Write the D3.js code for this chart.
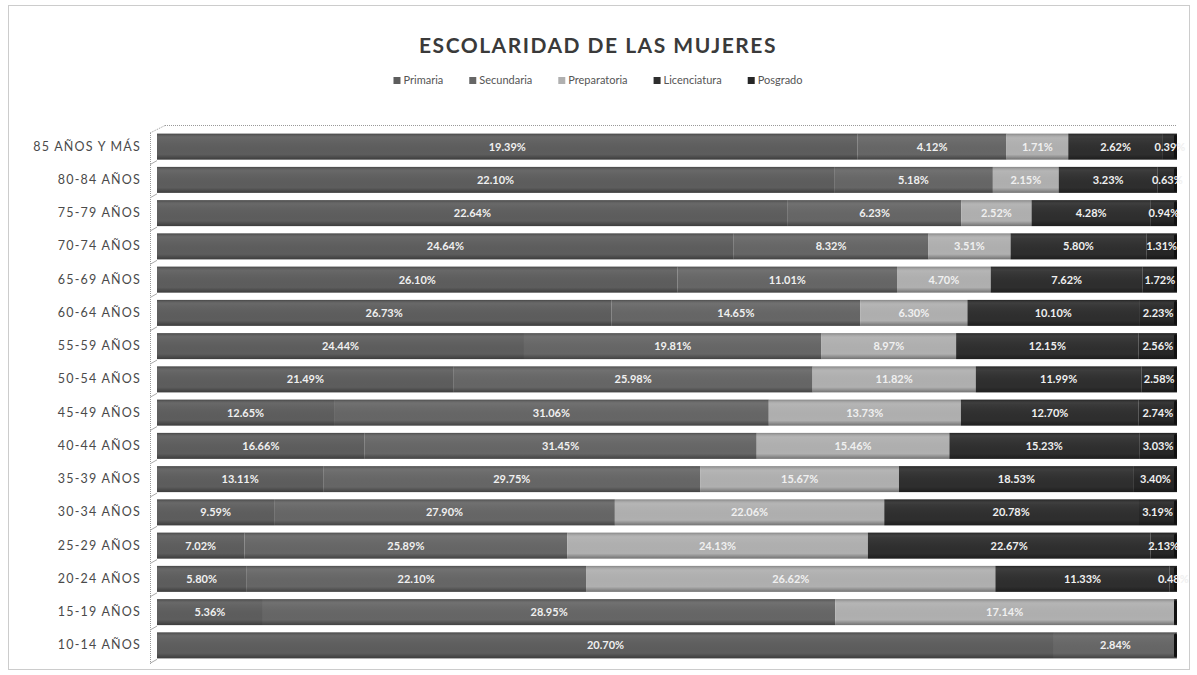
<!DOCTYPE html>
<html>
<head>
<meta charset="utf-8">
<script src="https://cdn.jsdelivr.net/npm/d3@7"></script>
<style>
  body { margin: 0; background: #fff; }
  svg text { font-family: Lato, "Open Sans", sans-serif; }
</style>
</head>
<body>
<div id="chart-area"></div>
<script>
const ageGroups = ['85 AÑOS Y MÁS', '80-84 AÑOS', '75-79 AÑOS', '70-74 AÑOS', '65-69 AÑOS', '60-64 AÑOS',
  '55-59 AÑOS', '50-54 AÑOS', '45-49 AÑOS', '40-44 AÑOS', '35-39 AÑOS', '30-34 AÑOS',
  '25-29 AÑOS', '20-24 AÑOS', '15-19 AÑOS', '10-14 AÑOS'];
const levels = ['Primaria', 'Secundaria', 'Preparatoria', 'Licenciatura', 'Posgrado'];
const primaria = [19.39, 22.10, 22.64, 24.64, 26.10, 26.73, 24.44, 21.49, 12.65, 16.66, 13.11, 9.59, 7.02, 5.80, 5.36, 20.70];
const secundaria = [4.12, 5.18, 6.23, 8.32, 11.01, 14.65, 19.81, 25.98, 31.06, 31.45, 29.75, 27.90, 25.89, 22.10, 28.95, 2.84];
const preparatoria = [1.71, 2.15, 2.52, 3.51, 4.70, 6.30, 8.97, 11.82, 13.73, 15.46, 15.67, 22.06, 24.13, 26.62, 17.14, 0];
const licenciatura = [2.62, 3.23, 4.28, 5.80, 7.62, 10.10, 12.15, 11.99, 12.70, 15.23, 18.53, 20.78, 22.67, 11.33, 0.15, 0];
const posgrado = [0.39, 0.63, 0.94, 1.31, 1.72, 2.23, 2.56, 2.58, 2.74, 3.03, 3.40, 3.19, 2.13, 0.48, 0, 0];
const colors = ['#5d5d5d', '#666666', '#b0b0b0', '#2e2e2e', '#262626'];

const chartSize = { width: 1197, height: 675 };
const margin = { left: 157, right: 20, top: 132, bottom: 15 };

const rows = ageGroups.map((g, i) => ({
  group: g,
  Primaria: primaria[i],
  Secundaria: secundaria[i],
  Preparatoria: preparatoria[i],
  Licenciatura: licenciatura[i],
  Posgrado: posgrado[i]
}));

const svg = d3.select('#chart-area').append('svg')
  .attr('width', chartSize.width)
  .attr('height', chartSize.height);

// outer dotted frame
svg.append('rect')
  .attr('x', 8.5).attr('y', 5.5)
  .attr('width', 1181).attr('height', 664)
  .attr('fill', 'none')
  .attr('stroke', '#999')
  .attr('stroke-dasharray', '1,1');

svg.append('text')
  .attr('x', 598).attr('y', 53)
  .attr('text-anchor', 'middle')
  .attr('font-size', 21)
  .attr('font-weight', 'bold')
  .attr('letter-spacing', 1.5)
  .attr('fill', '#3a3a3a')
  .text('ESCOLARIDAD DE LAS MUJERES');

// legend, laid out from measured text widths and centred
const legendGap = 26;
const legend = svg.append('g').attr('transform', 'translate(0,84)');
const items = legend.selectAll('g')
  .data(levels)
  .join('g');
items.append('rect')
  .attr('x', 0).attr('y', -7)
  .attr('width', 7).attr('height', 7)
  .attr('fill', (d, i) => colors[i]);
items.append('text')
  .attr('x', 10).attr('y', 0)
  .attr('font-size', 11)
  .attr('fill', '#555')
  .text(d => d);
let lx = 0;
const offsets = [];
items.each(function () {
  offsets.push(lx);
  lx += 10 + d3.select(this).select('text').node().getComputedTextLength() + legendGap;
});
const legendStart = 598 - (lx - legendGap) / 2;
items.attr('transform', (d, i) => `translate(${legendStart + offsets[i]},0)`);

const x = d3.scaleLinear()
  .domain([0, 1])
  .range([margin.left, chartSize.width - margin.right]);

const y = d3.scaleBand()
  .domain(ageGroups)
  .range([margin.top, chartSize.height - margin.bottom])
  .paddingInner(0.22)
  .paddingOuter(0.05);

// 3D back wall / axis lines
svg.append('line')
  .attr('x1', 165).attr('x2', x.range()[1])
  .attr('y1', 125.5).attr('y2', 125.5)
  .attr('stroke', '#999').attr('stroke-dasharray', '1,1');
svg.append('line')
  .attr('x1', 150.5).attr('x2', 150.5)
  .attr('y1', 133).attr('y2', 665)
  .attr('stroke', '#999').attr('stroke-dasharray', '1,1');
svg.append('line')
  .attr('x1', 150).attr('x2', 165)
  .attr('y1', 133).attr('y2', 125.5)
  .attr('stroke', '#999').attr('stroke-dasharray', '1,1');
svg.append('g')
  .selectAll('line')
  .data(ageGroups)
  .join('line')
  .attr('x1', 150).attr('x2', 157)
  .attr('y1', d => y(d) + y.bandwidth() + 5)
  .attr('y2', d => y(d) + y.bandwidth() + 1)
  .attr('stroke', '#aaa');

const yAxis = d3.axisLeft(y).tickSize(0).tickPadding(10);
const yAxisG = svg.append('g')
  .attr('transform', `translate(${margin.left - 6},0)`)
  .call(yAxis);
yAxisG.select('.domain').remove();
yAxisG.selectAll('text')
  .attr('font-size', 12.5)
  .attr('letter-spacing', 1.2)
  .attr('fill', '#4a4a4a');

const stack = d3.stack()
  .keys(levels)
  .offset(d3.stackOffsetExpand);
const series = stack(rows);

const defs = svg.append('defs');
const shade = defs.append('linearGradient')
  .attr('id', 'shade')
  .attr('x1', 0).attr('y1', 0).attr('x2', 0).attr('y2', 1);
shade.append('stop').attr('offset', '0%').attr('stop-color', '#000').attr('stop-opacity', 0.25);
shade.append('stop').attr('offset', '18%').attr('stop-color', '#fff').attr('stop-opacity', 0.06);
shade.append('stop').attr('offset', '80%').attr('stop-color', '#000').attr('stop-opacity', 0);
shade.append('stop').attr('offset', '100%').attr('stop-color', '#000').attr('stop-opacity', 0.35);

const barsG = svg.append('g');
barsG.selectAll('g')
  .data(series)
  .join('g')
  .attr('fill', (d, i) => colors[i])
  .selectAll('rect')
  .data(d => d)
  .join('rect')
  .attr('x', d => x(d[0]))
  .attr('y', d => y(d.data.group))
  .attr('width', d => Math.max(0, x(d[1]) - x(d[0])))
  .attr('height', y.bandwidth());

// shading overlay, rounded right end
barsG.selectAll('.overlay')
  .data(rows)
  .join('rect')
  .attr('class', 'overlay')
  .attr('x', x(0))
  .attr('y', d => y(d.group))
  .attr('width', x(1) - x(0))
  .attr('height', y.bandwidth())
  .attr('fill', 'url(#shade)');
barsG.selectAll('.cap')
  .data(rows)
  .join('rect')
  .attr('class', 'cap')
  .attr('x', x(1) - 3)
  .attr('y', d => y(d.group) + 1)
  .attr('width', 3)
  .attr('height', y.bandwidth() - 2)
  .attr('rx', 1.5)
  .attr('fill', '#111');

const labels = [];
series.forEach(s => s.forEach(d => {
  const v = d.data[s.key];
  if (v >= 0.3) labels.push({ v, cx: x((d[0] + d[1]) / 2), group: d.data.group });
}));

svg.append('g')
  .selectAll('text')
  .data(labels)
  .join('text')
  .attr('x', d => d.cx)
  .attr('y', d => y(d.group) + y.bandwidth() / 2 + 4)
  .attr('text-anchor', 'middle')
  .attr('font-size', 11)
  .attr('font-weight', 'bold')
  .attr('fill', '#f0f0f0')
  .text(d => `${d.v.toFixed(2)}%`);
</script>
</body>
</html>
